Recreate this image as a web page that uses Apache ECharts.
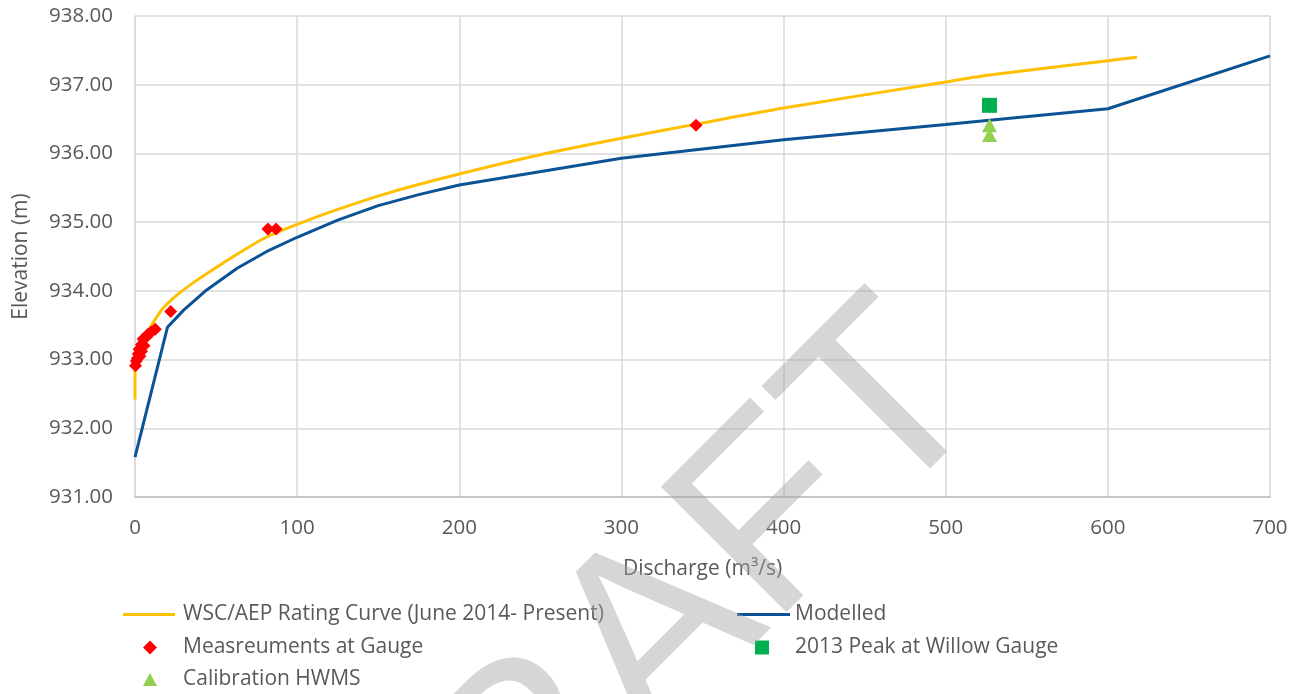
<!DOCTYPE html>
<html>
<head>
<meta charset="utf-8">
<title>Rating curve</title>
<script src="https://cdn.jsdelivr.net/npm/echarts@6/dist/echarts.min.js"></script>
<style>
  html, body { margin: 0; padding: 0; background: #fff; }
  #chart { width: 1302px; height: 694px; }
</style>
</head>
<body>
<div id="chart"></div>
<script>
// data (discharge m3/s, elevation m)
const ratingCurve = [
  [0, 932.42], [0, 932.95], [3, 933.15], [6, 933.32], [11, 933.53], [17, 933.74],
  [26, 933.94], [36, 934.12], [52, 934.37], [69, 934.62], [81, 934.78], [96, 934.93],
  [122, 935.16], [157, 935.43], [200, 935.70], [250, 935.98], [300, 936.22],
  [347, 936.43], [400, 936.66], [500, 937.04], [527, 937.14], [600, 937.35], [618, 937.40]
]
const modelled = [
  [0, 931.58], [20, 933.47], [30, 933.72], [44, 934.01], [63, 934.33], [81, 934.57],
  [100, 934.78], [125, 935.03], [150, 935.24], [175, 935.40], [200, 935.54],
  [300, 935.93], [400, 936.20], [500, 936.42], [600, 936.65], [700, 937.42]
]
const gaugeMeasurements = [
  [0.3, 932.91], [0.8, 932.98], [1.5, 933.02], [2, 933.08], [3, 933.05], [2.5, 933.15],
  [4, 933.12], [4, 933.22], [5.5, 933.2], [5, 933.3], [7, 933.33], [8, 933.37],
  [10, 933.4], [12.5, 933.44], [22, 933.70], [82, 934.90], [87, 934.90], [346, 936.41]
]
const peak2013 = [[527, 936.70]]
const calibrationHwms = [[527, 936.41], [527, 936.27]]

const seriesNames = [
  'WSC/AEP Rating Curve (June 2014- Present)',
  'Modelled',
  'Measreuments at Gauge',
  '2013 Peak at Willow Gauge',
  'Calibration HWMS'
]

const FONT = 'Open Sans'
const TXT = '#595959'

const chart = echarts.init(document.getElementById('chart'))

const legendBase = {
  orient: 'horizontal',
  padding: 0,
  selectedMode: false,
  textStyle: { fontFamily: FONT, fontSize: 21, color: TXT, lineHeight: 20 }
}

chart.setOption({
  animation: false,
  backgroundColor: '#fff',
  grid: { left: 135, right: 32, top: 16, bottom: 197 },
  xAxis: {
    type: 'value',
    min: 0,
    max: 700,
    interval: 100,
    name: 'Discharge (m³/s)',
    nameLocation: 'middle',
    nameGap: 62,
    nameTextStyle: { fontFamily: FONT, fontSize: 21, color: TXT, verticalAlign: 'top' },
    axisLine: { lineStyle: { color: '#bfbfbf', width: 1.5 } },
    axisTick: { show: false },
    axisLabel: { margin: 21, fontFamily: FONT, fontSize: 20.5, color: TXT },
    splitLine: { show: true, lineStyle: { color: '#d9d9d9', width: 1.5 } }
  },
  yAxis: {
    type: 'value',
    min: 931,
    max: 938,
    interval: 1,
    name: 'Elevation (m)',
    nameLocation: 'middle',
    nameRotate: 90,
    nameGap: 103,
    nameTextStyle: { fontFamily: FONT, fontSize: 21, color: TXT },
    axisLine: { show: true, lineStyle: { color: '#d9d9d9', width: 1.5 } },
    axisTick: { show: false },
    axisLabel: {
      margin: 22, fontFamily: FONT, fontSize: 20.5, color: TXT,
      formatter: v => v.toFixed(2)
    },
    splitLine: { show: true, lineStyle: { color: '#d9d9d9', width: 1.5 } }
  },
  legend: [
    Object.assign({}, legendBase, {
      left: 123, top: 604, itemWidth: 52, itemHeight: 3,
      data: [{ name: seriesNames[0], icon: 'rect', textStyle: { padding: [0, 0, 0, 3] } }]
    }),
    Object.assign({}, legendBase, {
      left: 737, top: 604, itemWidth: 53, itemHeight: 3,
      data: [{ name: seriesNames[1], icon: 'rect' }]
    }),
    Object.assign({}, legendBase, {
      left: 143, top: 637, itemWidth: 14, itemHeight: 14,
      data: [{ name: seriesNames[2], icon: 'diamond', textStyle: { padding: [0, 0, 0, 21] } }]
    }),
    Object.assign({}, legendBase, {
      left: 755, top: 637, itemWidth: 14, itemHeight: 14,
      data: [{ name: seriesNames[3], icon: 'rect', textStyle: { padding: [0, 0, 0, 21] } }]
    }),
    Object.assign({}, legendBase, {
      left: 143, top: 669, itemWidth: 14, itemHeight: 13,
      data: [{ name: seriesNames[4], icon: 'triangle', textStyle: { padding: [0, 0, 0, 21] } }]
    })
  ],
  graphic: [{
    type: 'text',
    x: 640,
    y: 658,
    rotation: Math.PI / 4,
    z: 100,
    silent: true,
    style: {
      text: 'DRAFT',
      font: '258px "Liberation Sans"',
      fill: 'rgba(165,165,165,0.45)',
      align: 'center',
      verticalAlign: 'middle'
    }
  }],
  series: [
    {
      name: seriesNames[0],
      type: 'line',
      data: ratingCurve,
      showSymbol: false,
      symbol: 'none',
      smooth: 0.25,
      lineStyle: { color: '#ffc000', width: 3 },
      itemStyle: { color: '#ffc000' },
      z: 3
    },
    {
      name: seriesNames[1],
      type: 'line',
      data: modelled,
      showSymbol: false,
      symbol: 'none',
      lineStyle: { color: '#0b5394', width: 3 },
      itemStyle: { color: '#0b5394' },
      z: 2
    },
    {
      name: seriesNames[2],
      type: 'scatter',
      data: gaugeMeasurements,
      symbol: 'diamond',
      symbolSize: 13,
      itemStyle: { color: '#ff0000', opacity: 1 },
      z: 4
    },
    {
      name: seriesNames[3],
      type: 'scatter',
      data: peak2013,
      symbol: 'rect',
      symbolSize: 15,
      itemStyle: { color: '#00b050', opacity: 1 },
      z: 4
    },
    {
      name: seriesNames[4],
      type: 'scatter',
      data: calibrationHwms,
      symbol: 'triangle',
      symbolSize: [15, 14],
      itemStyle: { color: '#92d050', opacity: 1 },
      z: 4
    }
  ]
})

window.addEventListener('resize', () => chart.resize())
</script>
</body>
</html>
